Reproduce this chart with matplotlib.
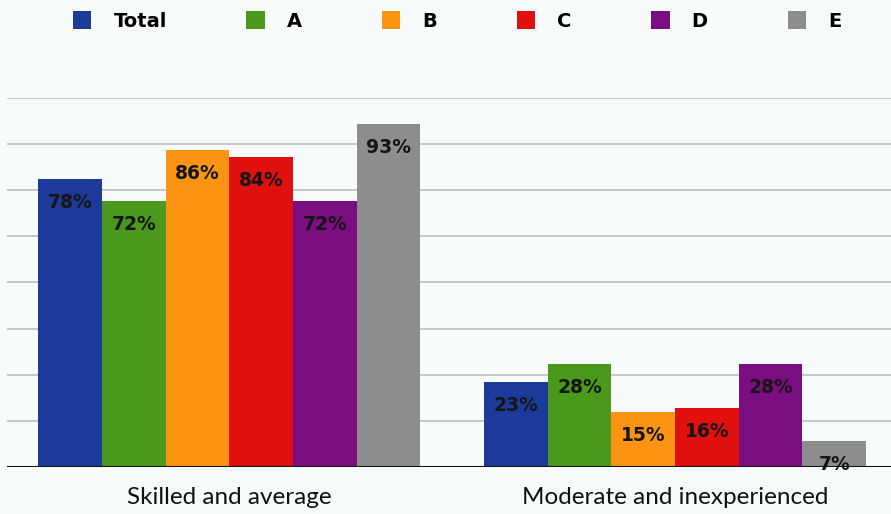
import matplotlib

matplotlib.use("Agg")
import matplotlib.pyplot as plt
import numpy as np

groups = ["Skilled and average", "Moderate and inexperienced"]
series = ["Total", "A", "B", "C", "D", "E"]
colors = ["#1c3a9a", "#4a981c", "#fb9412", "#e0100e", "#7a0e80", "#8d8d8d"]
skilled = [78, 72, 86, 84, 72, 93]
moderate = [23, 28, 15, 16, 28, 7]

plt.rcParams["font.family"] = ["Lato", "DejaVu Sans"]

fig = plt.figure(figsize=(8.91, 5.14), dpi=100, facecolor="#f8fbfc")
ax = fig.add_axes([0.008, 0.0914, 0.992, 0.718])
ax.set_facecolor("#f8fbfc")

values = np.array([skilled, moderate])
n = len(series)
group_x = np.array([0, n + 1])
handles = []
for i, name in enumerate(series):
    x = group_x + i
    bars = ax.bar(x, values[:, i], width=1.0, color=colors[i], label=name, zorder=3)
    handles.append(bars)
    for xi, v in zip(x, values[:, i]):
        ax.annotate(f"{v}%", (xi, v), xytext=(0, -17), textcoords="offset points",
                    ha="center", va="center", fontsize=13.5, fontweight="bold",
                    color="#151515", family="DejaVu Sans", zorder=4)

ax.set_xlim(-0.987, 12.89)
ax.set_ylim(0, 100)
ax.set_yticks(np.arange(12.5, 100.1, 12.5))
ax.grid(axis="y", color="#c6c6c6", linewidth=1.4, zorder=0)
ax.axhline(0, color="#111111", linewidth=2.2, zorder=5)
ax.tick_params(left=False, bottom=False, labelleft=False, labelbottom=False)
for spine in ax.spines.values():
    spine.set_visible(False)

for gx, label in zip(group_x, groups):
    ax.text(gx + (n - 1) / 2, -8.3, label, ha="center", va="center", fontsize=17.5, color="#111111")

fig.legend(handles=handles, labels=series, ncol=6, loc="center", bbox_to_anchor=(0.513, 0.959),
           frameon=False, handlelength=0.95, handleheight=1.05, handletextpad=1.13, columnspacing=4.1,
           prop={"family": "DejaVu Sans", "weight": "bold", "size": 14})

fig.savefig("out.png", dpi=100, facecolor=fig.get_facecolor())
